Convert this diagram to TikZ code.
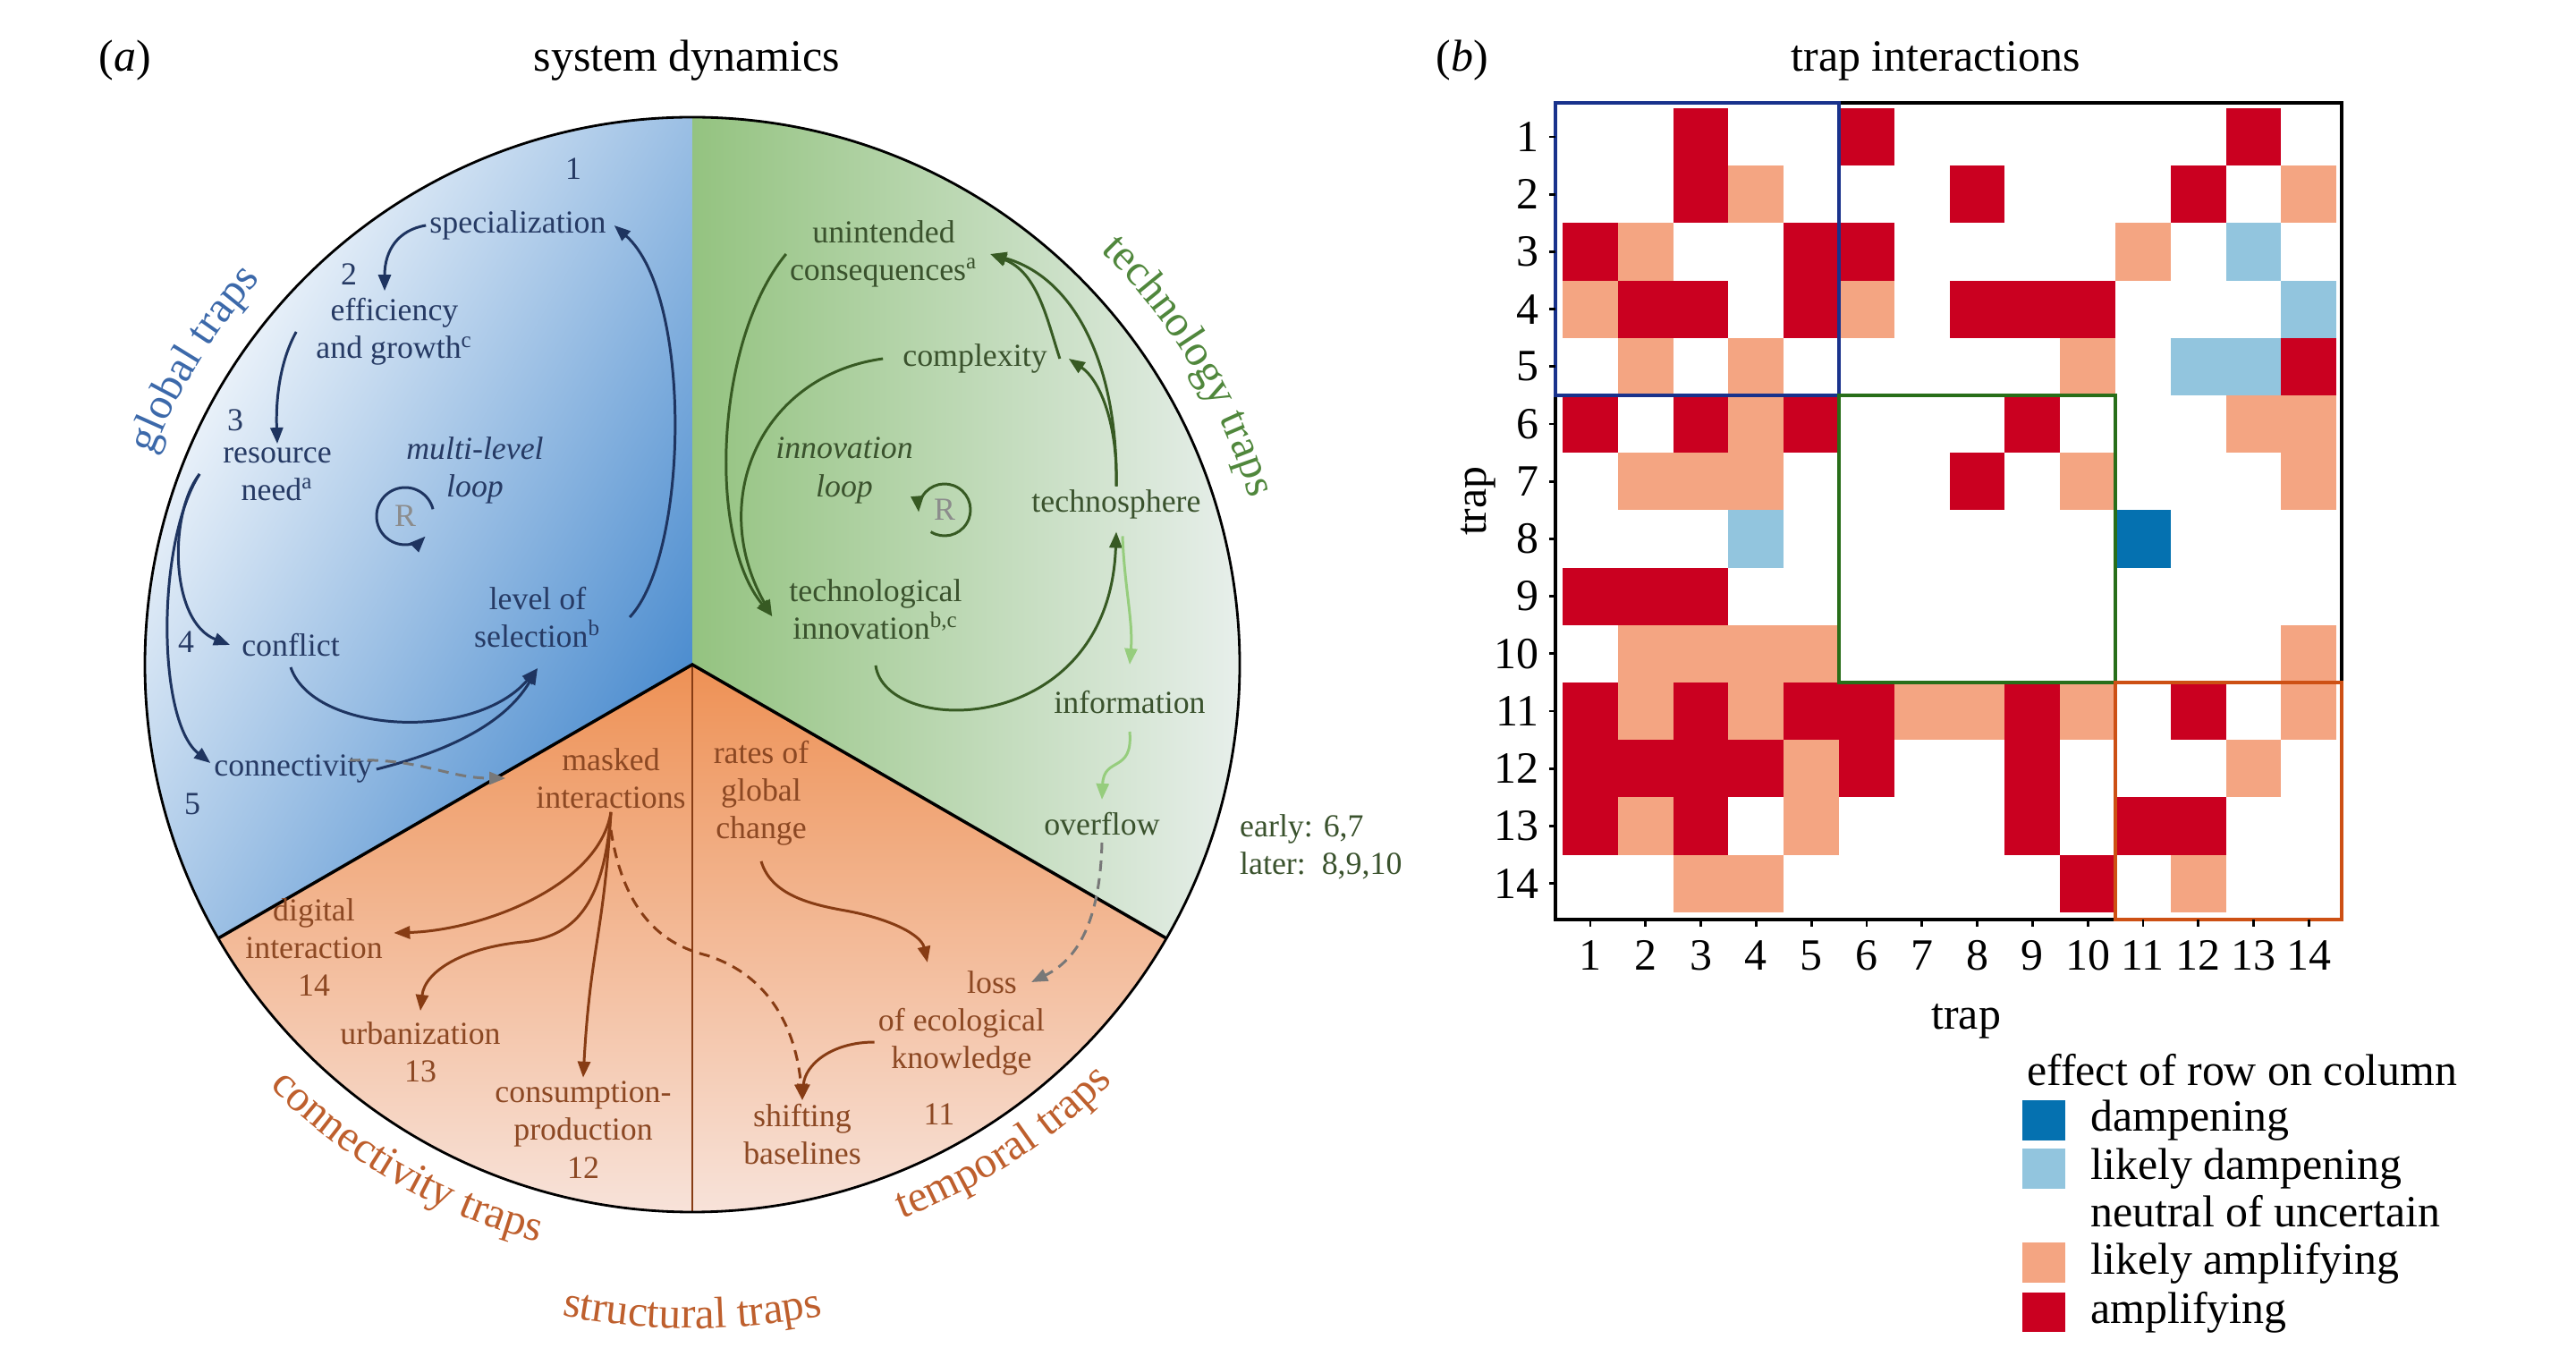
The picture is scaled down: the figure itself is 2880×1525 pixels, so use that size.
\documentclass[tikz,border=0pt]{standalone}
\usepackage{fontspec}
\setmainfont{Liberation Serif}
\usetikzlibrary{arrows.meta,positioning,decorations.text}

\definecolor{globaltext}{RGB}{38,58,100}
\definecolor{globalarrow}{RGB}{30,52,96}
\definecolor{globalfill}{RGB}{72,138,206}
\definecolor{globaltrap}{RGB}{60,105,170}
\definecolor{techtext}{RGB}{58,82,45}
\definecolor{techarrow}{RGB}{55,90,35}
\definecolor{techfill}{RGB}{148,195,128}
\definecolor{techwhite}{RGB}{243,245,250}
\definecolor{techtrap}{RGB}{80,135,60}
\definecolor{lightarrow}{RGB}{150,205,125}
\definecolor{structtext}{RGB}{140,72,35}
\definecolor{structarrow}{RGB}{135,60,20}
\definecolor{structfill}{RGB}{238,145,85}
\definecolor{structwhite}{RGB}{249,238,236}
\definecolor{structtrap}{RGB}{190,95,45}
\definecolor{greyarrow}{RGB}{120,120,120}
\definecolor{rgray}{RGB}{140,140,140}
\definecolor{ampc}{HTML}{CA0020}
\definecolor{likampc}{HTML}{F4A582}
\definecolor{likdampc}{HTML}{92C5DE}
\definecolor{dampc}{HTML}{0571B0}
\definecolor{boxblue}{RGB}{25,50,140}
\definecolor{boxgreen}{RGB}{40,110,25}
\definecolor{boxorange}{RGB}{205,80,20}

\newcommand{\bodyfont}{\fontsize{10.2}{12}\selectfont}
\newcommand{\headfont}{\fontsize{14.2}{17}\selectfont}
\newcommand{\trapfont}{\fontsize{14}{17}\selectfont}

\begin{document}
\begin{tikzpicture}[x=0.1mm, y=0.1mm, >={Triangle[length=1.8mm,width=1.4mm]},
	every node/.append style={inner sep=1pt},
	gtext/.style={text=globaltext, font=\bodyfont, align=center},
	ttext/.style={text=techtext, font=\bodyfont, align=center},
	stext/.style={text=structtext, font=\bodyfont, align=center},
	rtext/.style={text=rgray, font=\bodyfont},
	garrow/.style={->, draw=globalarrow, line width=0.85pt},
	tarrow/.style={->, draw=techarrow, line width=0.85pt},
	larrow/.style={->, draw=lightarrow, line width=0.85pt},
	sarrow/.style={->, draw=structarrow, line width=0.85pt},
	grarrow/.style={->, draw=greyarrow, line width=0.85pt, dash pattern=on 1.2mm off 0.8mm},
	swatch/.style={minimum width=4.8mm, minimum height=4.5mm, inner sep=0pt}]
	\useasboundingbox (0,0) rectangle (2880,1525);

	% (a) system dynamics
	\coordinate (ctr) at (774, 782);
	\shade[top color=white, bottom color=globalfill, shading angle=60] (ctr) -- ([shift={(90:612)}]ctr) arc[start angle=90, end angle=210, radius=612] -- cycle;
	\shade[left color=techfill, right color=techwhite] (ctr) -- ([shift={(-30:612)}]ctr) arc[start angle=-30, end angle=90, radius=612] -- cycle;
	\shade[top color=structfill, bottom color=structwhite] (ctr) -- ([shift={(210:612)}]ctr) arc[start angle=210, end angle=330, radius=612] -- cycle;
	\draw[structarrow, line width=0.5pt] (ctr) -- ([shift={(270:612)}]ctr);
	\draw[line width=1pt] ([shift={(210:612)}]ctr) -- (ctr) -- ([shift={(330:612)}]ctr);
	\draw[line width=0.8pt] (ctr) circle[radius=612];

	\node (tita)	at (140, 1457)	[font=\headfont]	{(\textit{a})};
	\node (titsys)	at (768, 1457)	[font=\headfont]	{system dynamics};

	\path[decorate, decoration={text along path, text={|\trapfont|global traps}, text color=globaltrap, text align=center}]
		([shift={(178:647)}]ctr) arc[start angle=178, end angle=119, radius=647];
	\path[decorate, decoration={text along path, text={|\trapfont|technology traps}, text color=techtrap, text align=center}]
		([shift={(61:650)}]ctr) arc[start angle=61, end angle=1, radius=650];
	\path[decorate, decoration={text along path, text={|\trapfont|connectivity traps}, text color=structtrap, text align=center}]
		([shift={(208:668)}]ctr) arc[start angle=208, end angle=272, radius=668];
	\path[decorate, decoration={text along path, text={|\trapfont|temporal traps}, text color=structtrap, text align=center}]
		([shift={(275:662)}]ctr) arc[start angle=275, end angle=331, radius=662];
	\path[decorate, decoration={text along path, text={|\trapfont|structural traps}, text color=structtrap, text align=center}]
		([shift={(250:742)}]ctr) arc[start angle=250, end angle=290, radius=742];

	% global traps
	\node (n1)	at (641, 1336)	[gtext]	{1};
	\node (spec)	at (579, 1273)	[gtext]	{specialization};
	\node (n2)	at (390, 1218)	[gtext]	{2};
	\node (effic)	at (441, 1154)	[gtext]	{efficiency\\and growth\textsuperscript{c}};
	\node (n3)	at (263, 1055)	[gtext]	{3};
	\node (resour)	at (310, 995)	[gtext]	{resource\\need\textsuperscript{a}};
	\node (mloop)	at (531, 999)	[gtext, font=\bodyfont\itshape]	{multi-level\\loop};
	\node (rglob)	at (453, 948)	[rtext]	{R};
	\node (level)	at (601, 835)	[gtext]	{level of\\selection\textsuperscript{b}};
	\node (n4)	at (208, 807)	[gtext]	{4};
	\node (confl)	at (325, 804)	[gtext]	{conflict};
	\node (connec)	at (328, 665)	[gtext]	{connectivity};
	\node (n5)	at (215, 626)	[gtext]	{5};

	\draw[garrow] ([xshift=2.8mm]level.east) .. controls (770, 905) and (775, 1195) .. ([xshift=0.5mm]spec.east);
	\draw[garrow] (spec.west) .. controls (445, 1268) and (430, 1245) .. ([xshift=-1.1mm,yshift=0.4mm]effic.north);
	\draw[garrow] ([xshift=-1.8mm]effic.west) .. controls (315, 1125) and (308, 1085) .. (resour.north);
	\draw[garrow] ([xshift=-2.2mm]resour.west) .. controls (188, 950) and (190, 830) .. ([xshift=-0.9mm]confl.west);
	\draw[garrow] ([xshift=-2.2mm]resour.west) .. controls (175, 920) and (175, 720) .. ([yshift=0.7mm]connec.west);
	\draw[garrow] ([yshift=-0.8mm]confl.south) .. controls (350, 705) and (530, 695) .. ([yshift=-1.9mm]level.south);
	\draw[garrow] (connec.east) .. controls (520, 690) and (570, 725) .. ([yshift=-1.9mm]level.south);
	\draw[garrow] ([shift={(14:32)}]rglob.center) arc[start angle=14, end angle=315, radius=32];

	% technology traps
	\node (unint)	at (988, 1241)	[ttext]	{unintended\\consequences\textsuperscript{a}};
	\node (compl)	at (1090, 1124)	[ttext]	{complexity};
	\node (iloop)	at (944, 999)	[ttext, font=\bodyfont\itshape]	{innovation\\loop};
	\node (rtech)	at (1056, 955)	[rtext]	{R};
	\node (techno)	at (1248, 961)	[ttext]	{technosphere};
	\node (techinn)	at (979, 844)	[ttext]	{technological\\innovation\textsuperscript{b,c}};
	\node (info)	at (1263, 740)	[ttext]	{information};
	\node (overf)	at (1232, 604)	[ttext]	{overflow};
	\node (early)	at (1382, 578)	[ttext, anchor=west, align=left]	{early: 6,7\\later:\ \ 8,9,10};

	\draw[tarrow] (unint.west) .. controls (800, 1145) and (790, 925) .. ([xshift=-1.5mm,yshift=-0.8mm]techinn.west);
	\draw[tarrow] ([xshift=-1.8mm]compl.west) .. controls (850, 1105) and (790, 965) .. ([xshift=-1.5mm,yshift=-0.8mm]techinn.west);
	\draw[tarrow] (techno.north) .. controls (1250, 1050) and (1230, 1100) .. ([xshift=2mm]compl.east);
	\draw[tarrow] (techno.north) .. controls (1250, 1120) and (1200, 1215) .. ([xshift=1mm]unint.east);
	\draw[tarrow] ([xshift=1mm]compl.east) .. controls (1170, 1170) and (1160, 1220) .. ([xshift=1mm]unint.east);
	\draw[tarrow] ([yshift=-2.5mm]techinn.south) .. controls (990, 700) and (1240, 700) .. ([yshift=-1mm]techno.south);
	\draw[tarrow] ([shift={(-122:29)}]rtech.center) arc[start angle=-122, end angle=185, radius=29];
	\draw[larrow] ([xshift=0.7mm,yshift=-1.5mm]techno.south) .. controls (1257, 870) and (1267, 830) .. ([yshift=2.5mm]info.north);
	\draw[larrow] ([yshift=-1.6mm]info.south) .. controls (1267, 660) and (1234, 680) .. ([yshift=1mm]overf.north);

	% structural traps
	\node (masked)	at (683, 655)	[stext]	{masked\\interactions};
	\node (rates)	at (851, 638)	[stext]	{rates of\\global\\change};
	\node (loss)	at (1109, 427)	[stext]	{loss};
	\node (ecol)	at (1075, 360)	[stext]	{of ecological\\knowledge};
	\node (n11)	at (1050, 279)	[stext]	{11};
	\node (basel)	at (897, 257)	[stext]	{shifting\\baselines};
	\node (consum)	at (652, 262)	[stext]	{consumption-\\production\\12};
	\node (digit)	at (351, 466)	[stext]	{digital\\interaction\\14};
	\node (urban)	at (470, 349)	[stext]	{urbanization\\13};

	\draw[sarrow] (masked.south) .. controls (670, 535) and (540, 485) .. ([xshift=0.85mm,yshift=1.6mm]digit.east);
	\draw[sarrow] (masked.south) .. controls (675, 510) and (640, 478) .. (585, 472) .. controls (520, 466) and (475, 440) .. ([yshift=0.8mm]urban.north);
	\draw[sarrow] (masked.south) .. controls (675, 480) and (660, 465) .. (consum.north);
	\draw[sarrow, dash pattern=on 1.2mm off 0.8mm] ([yshift=-2mm]masked.south) .. controls (700, 485) and (760, 465) .. (790, 457) .. controls (860, 435) and (890, 375) .. (basel.north);
	\draw[sarrow] ([yshift=-1.3mm]rates.south) .. controls (862, 525) and (905, 514) .. (945, 507) .. controls (995, 498) and (1030, 480) .. ([xshift=-4mm,yshift=2.2mm]loss.west);
	\draw[sarrow] (ecol.west) .. controls (930, 360) and (900, 335) .. (basel.north);

	% cross-group links
	\draw[grarrow] ([xshift=-3mm,yshift=1mm]connec.east) .. controls (470, 678) and (500, 655) .. ([xshift=-3mm]masked.west);
	\draw[grarrow] ([yshift=-0.4mm]overf.south) .. controls (1230, 505) and (1210, 455) .. ([xshift=1.2mm]loss.east);

	% (b) trap interactions
	\node (titb)	at (1635, 1457)	[font=\headfont]	{(\textit{b})};
	\node (titmat)	at (2164, 1457)	[font=\headfont]	{trap interactions};

	\begin{scope}[shift={(1747,1404)}, x=6.18mm, y=-6.42mm]
		\foreach \r/\c in {1/3,1/6,1/13, 2/3,2/8,2/12, 3/1,3/5,3/6, 4/2,4/3,4/5,4/8,4/9,4/10, 5/14, 6/1,6/3,6/5,6/9, 7/8, 9/1,9/2,9/3,
			11/1,11/3,11/5,11/6,11/9,11/12, 12/1,12/2,12/3,12/4,12/6,12/9, 13/1,13/3,13/9,13/11,13/12, 14/10}
			\fill[ampc] ({\c-1},{\r-1}) rectangle ({\c},{\r});
		\foreach \r/\c in {2/4,2/14, 3/2,3/11, 4/1,4/6, 5/2,5/4,5/10, 6/4,6/13,6/14, 7/2,7/3,7/4,7/10,7/14,
			10/2,10/3,10/4,10/5,10/14, 11/2,11/4,11/7,11/8,11/10,11/14, 12/5,12/13, 13/2,13/5, 14/3,14/4,14/12}
			\fill[likampc] ({\c-1},{\r-1}) rectangle ({\c},{\r});
		\foreach \r/\c in {3/13, 4/14, 5/12, 5/13, 8/4}
			\fill[likdampc] ({\c-1},{\r-1}) rectangle ({\c},{\r});
		\fill[dampc] (10,7) rectangle (11,8);

		\draw[line width=1pt] (-0.13,-0.093) rectangle (14.09,14.13);
		\draw[boxblue, line width=1.4pt] (-0.13,-0.093) rectangle (5,5);
		\draw[boxgreen, line width=1.1pt] (5,5) rectangle (10,10);
		\draw[boxorange, line width=1.1pt] (10,10) rectangle (14.09,14.13);

		\foreach \i in {1,...,14} {
			\draw[line width=0.8pt] (-0.13,\i-0.5) -- (-0.24,\i-0.5);
			\draw[line width=0.8pt] (\i-0.5,14.13) -- (\i-0.5,14.26);
			\node (row\i)	at (-0.36,\i-0.5)	[anchor=east, font=\headfont]	{\i};
			\node (col\i)	at (\i-0.5,14.75)	[font=\headfont]	{\i};
		}
		\node (ylab)	at (-1.52, 6.84)	[rotate=90, font=\headfont]	{trap};
		\node (xlab)	at (7.3, 15.9)	[font=\headfont]	{trap};
	\end{scope}

	% legend
	\node (leghead)	at (2262, 329)	[anchor=west, font=\headfont]	{effect of row on column};
	\node (sw1)	at (2285, 272)	[swatch, fill=dampc]	{};
	\node (sw2)	at (2285, 218)	[swatch, fill=likdampc]	{};
	\node (sw3)	at (2285, 171)	[swatch, fill=white]	{};
	\node (sw4)	at (2285, 113)	[swatch, fill=likampc]	{};
	\node (sw5)	at (2285, 58)	[swatch, fill=ampc]	{};
	\node (lab1)	[right=2.35mm of sw1, font=\headfont]	{dampening};
	\node (lab2)	[right=2.35mm of sw2, font=\headfont]	{likely dampening};
	\node (lab3)	[right=2.35mm of sw3, font=\headfont]	{neutral of uncertain};
	\node (lab4)	[right=2.35mm of sw4, font=\headfont]	{likely amplifying};
	\node (lab5)	[right=2.35mm of sw5, font=\headfont]	{amplifying};
\end{tikzpicture}
\end{document}
